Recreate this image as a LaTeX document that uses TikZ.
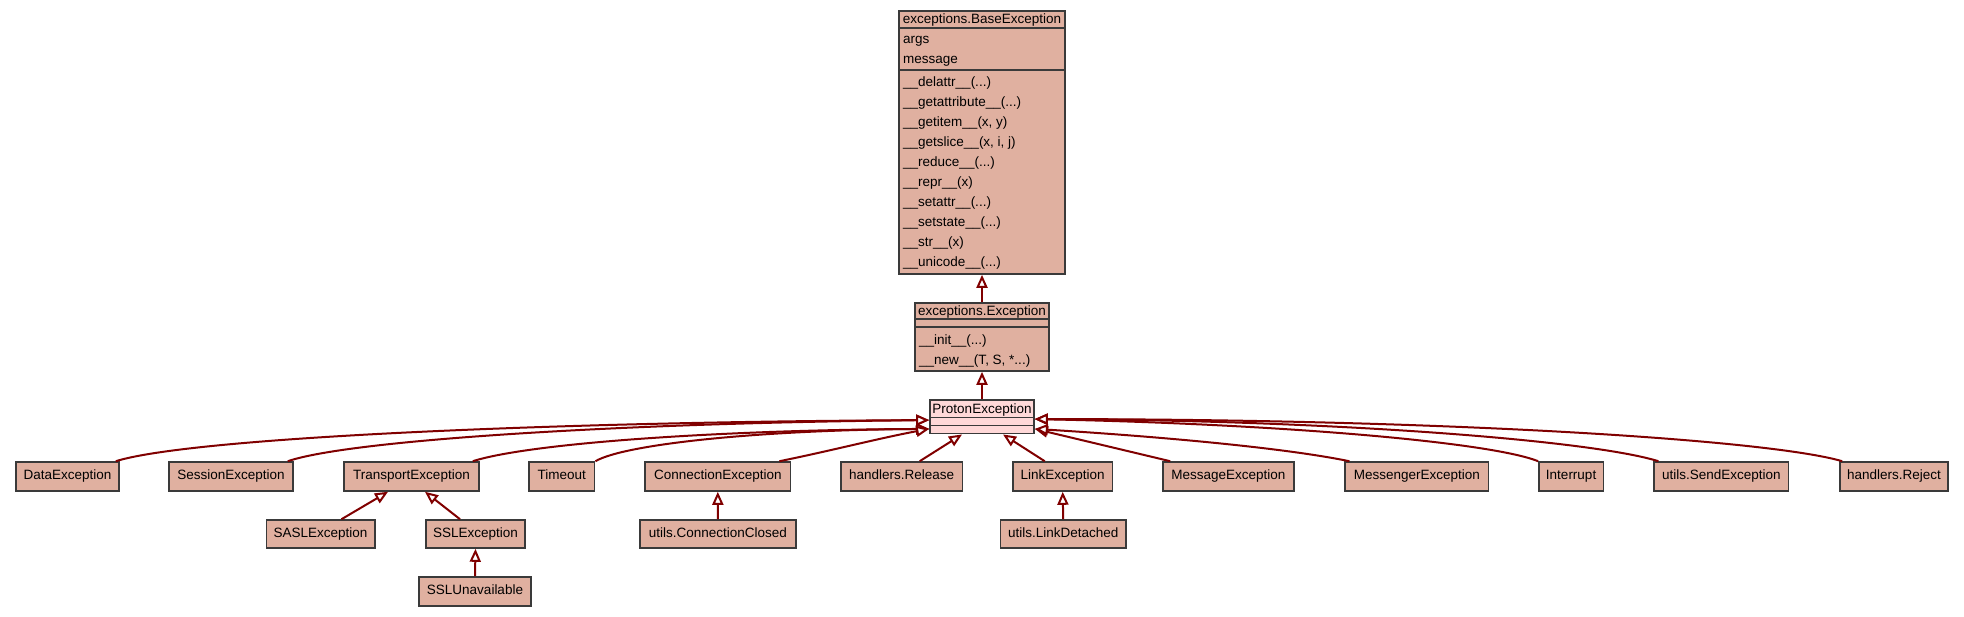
\documentclass[tikz,border=0pt]{standalone}
\usepackage{fontspec}
\setmainfont{Liberation Sans}
\usetikzlibrary{arrows.meta,calc}
\definecolor{boxfill}{HTML}{E0B0A0}
\definecolor{protonfill}{HTML}{FFD8D8}
\definecolor{edgered}{HTML}{800000}
\definecolor{boxline}{HTML}{3A3A3A}
\begin{document}
\begin{tikzpicture}[x=1pt,y=-1pt,
  cls/.style={draw=boxline, line width=1.6pt, fill=boxfill, minimum height=29pt, inner sep=0pt,
    text height=9.7pt, text depth=2.8pt, font=\fontsize{13.5}{16}\selectfont},
  txt/.style={anchor=base west, inner sep=0pt, font=\fontsize{13.5}{16}\selectfont},
  ttl/.style={anchor=base, inner sep=0pt, font=\fontsize{13.5}{16}\selectfont},
  sep/.style={draw=boxline, line width=1.6pt},
  inh/.style={draw=edgered, line width=2pt, -{Triangle[length=13pt,width=11pt,fill=white]}}
]
\useasboundingbox (0,0) rectangle (1964,616);

% BaseException
\node[cls, minimum width=166pt, minimum height=263pt] (base) at (982,142.5) {};
\draw[sep] ($(base.north west)+(0,17.5)$) -- ($(base.north east)+(0,17.5)$);
\draw[sep] ($(base.north west)+(0,60)$) -- ($(base.north east)+(0,60)$);
\node[ttl] (basetitle) at (982,23.5) {exceptions.BaseException};
\node[txt] (battr1) at (903,43.3) {args};
\node[txt] (battr2) at (903,63.3) {message};
\node[txt] (bm1) at (903,86.7) {\_\_delattr\_\_(...)};
\node[txt] (bm2) at (903,106.7) {\_\_getattribute\_\_(...)};
\node[txt] (bm3) at (903,126.7) {\_\_getitem\_\_(x, y)};
\node[txt] (bm4) at (903,146.7) {\_\_getslice\_\_(x, i, j)};
\node[txt] (bm5) at (903,166.7) {\_\_reduce\_\_(...)};
\node[txt] (bm6) at (903,186.7) {\_\_repr\_\_(x)};
\node[txt] (bm7) at (903,206.7) {\_\_setattr\_\_(...)};
\node[txt] (bm8) at (903,226.7) {\_\_setstate\_\_(...)};
\node[txt] (bm9) at (903,246.7) {\_\_str\_\_(x)};
\node[txt] (bm10) at (903,266.7) {\_\_unicode\_\_(...)};

% Exception
\node[cls, minimum width=134pt, minimum height=68pt] (exc) at (982,337) {};
\draw[sep] ($(exc.north west)+(0,17)$) -- ($(exc.north east)+(0,17)$);
\draw[sep] ($(exc.north west)+(0,25)$) -- ($(exc.north east)+(0,25)$);
\node[ttl] (exctitle) at (982,315.5) {exceptions.Exception};
\node[txt] (em1) at (919,344.5) {\_\_init\_\_(...)};
\node[txt] (em2) at (919,364.5) {\_\_new\_\_(T, S, *...)};

% ProtonException
\node[cls, fill=protonfill, minimum width=104pt, minimum height=33.5pt] (proton) at (982,416.9) {};
\draw[sep] ($(proton.north west)+(0,18)$) -- ($(proton.north east)+(0,18)$);
\draw[sep] ($(proton.north west)+(0,26)$) -- ($(proton.north east)+(0,26)$);
\node[ttl] (protontitle) at (982,413.5) {ProtonException};

% Row 1
\node[cls, minimum width=103pt] (data) at (67.5,476.5) {DataException};
\node[cls, minimum width=124pt] (session) at (231,476.5) {SessionException};
\node[cls, minimum width=135pt] (transport) at (411.5,476.5) {TransportException};
\node[cls, minimum width=65.6pt] (timeout) at (561.8,476.5) {Timeout};
\node[cls, minimum width=145.6pt] (connexc) at (717.8,476.5) {ConnectionException};
\node[cls, minimum width=121.5pt] (release) at (901.7,476.5) {handlers.Release};
\node[cls, minimum width=99.5pt] (linkexc) at (1062.7,476.5) {LinkException};
\node[cls, minimum width=130.8pt] (message) at (1228.4,476.5) {MessageException};
\node[cls, minimum width=143.3pt] (messenger) at (1416.8,476.5) {MessengerException};
\node[cls, minimum width=64.4pt] (interrupt) at (1571.1,476.5) {Interrupt};
\node[cls, minimum width=134.4pt] (send) at (1721.4,476.5) {utils.SendException};
\node[cls, minimum width=108pt] (reject) at (1894,476.5) {handlers.Reject};

% Row 2
\node[cls, minimum width=108.4pt, minimum height=28pt] (sasl) at (320.5,534) {SASLException};
\node[cls, minimum width=99pt, minimum height=28pt] (ssl) at (475.5,534) {SSLException};
\node[cls, minimum width=156.3pt, minimum height=28pt] (connclosed) at (717.9,534) {utils.ConnectionClosed};
\node[cls, minimum width=125.6pt, minimum height=28pt] (linkdet) at (1063.2,534) {utils.LinkDetached};

% Row 3
\node[cls, minimum width=112pt] (sslunav) at (475,591.5) {SSLUnavailable};

% Inheritance edges
\draw[inh] (exc.north) -- (base.south);
\draw[inh] (proton.north) -- (exc.south);

\draw[inh] ($(data.north east)+(-4,0)$) .. controls (190,438) and (540,422) .. ($(proton.west)+(0,3.2)$);
\draw[inh] ($(session.north east)+(-6,0)$) .. controls (350,440) and (620,423) .. ($(proton.west)+(0,3.2)$);
\draw[inh] ($(transport.north east)+(-7,0)$) .. controls (530,443) and (720,430) .. ($(proton.west)+(0,12)$);
\draw[inh] (timeout.north east) .. controls (625,444) and (760,430) .. ($(proton.west)+(0,12)$);
\draw[inh] ($(connexc.north east)+(-12,0)$) .. controls (830,451) and (880,438) .. ($(proton.west)+(0,12)$);
\draw[inh] ($(release.north)+(18,0)$) -- ($(proton.south)+(-20,0)$);
\draw[inh] ($(linkexc.north)+(-18,0)$) -- ($(proton.south)+(21,0)$);
\draw[inh] ($(message.north west)+(8,0)$) -- ($(proton.east)+(0,12)$);
\draw[inh] ($(messenger.north west)+(5,0)$) .. controls (1280,447) and (1150,436) .. ($(proton.east)+(0,12)$);
\draw[inh] (interrupt.north west) .. controls (1490,442) and (1280,424) .. ($(proton.east)+(0,2.2)$);
\draw[inh] ($(send.north west)+(5,0)$) .. controls (1590,440) and (1330,420) .. ($(proton.east)+(0,2.2)$);
\draw[inh] ($(reject.north west)+(3,0)$) .. controls (1770,440) and (1450,419) .. ($(proton.east)+(0,2.2)$);

\draw[inh] ($(sasl.north)+(21,0)$) -- ($(transport.south)+(-23.5,0)$);
\draw[inh] ($(ssl.north)+(-15.5,0)$) -- ($(transport.south)+(13.5,0)$);
\draw[inh] (sslunav.north) -- (ssl.south);
\draw[inh] (connclosed.north) -- (connexc.south);
\draw[inh] (linkdet.north) -- (linkexc.south);
\end{tikzpicture}
\end{document}
